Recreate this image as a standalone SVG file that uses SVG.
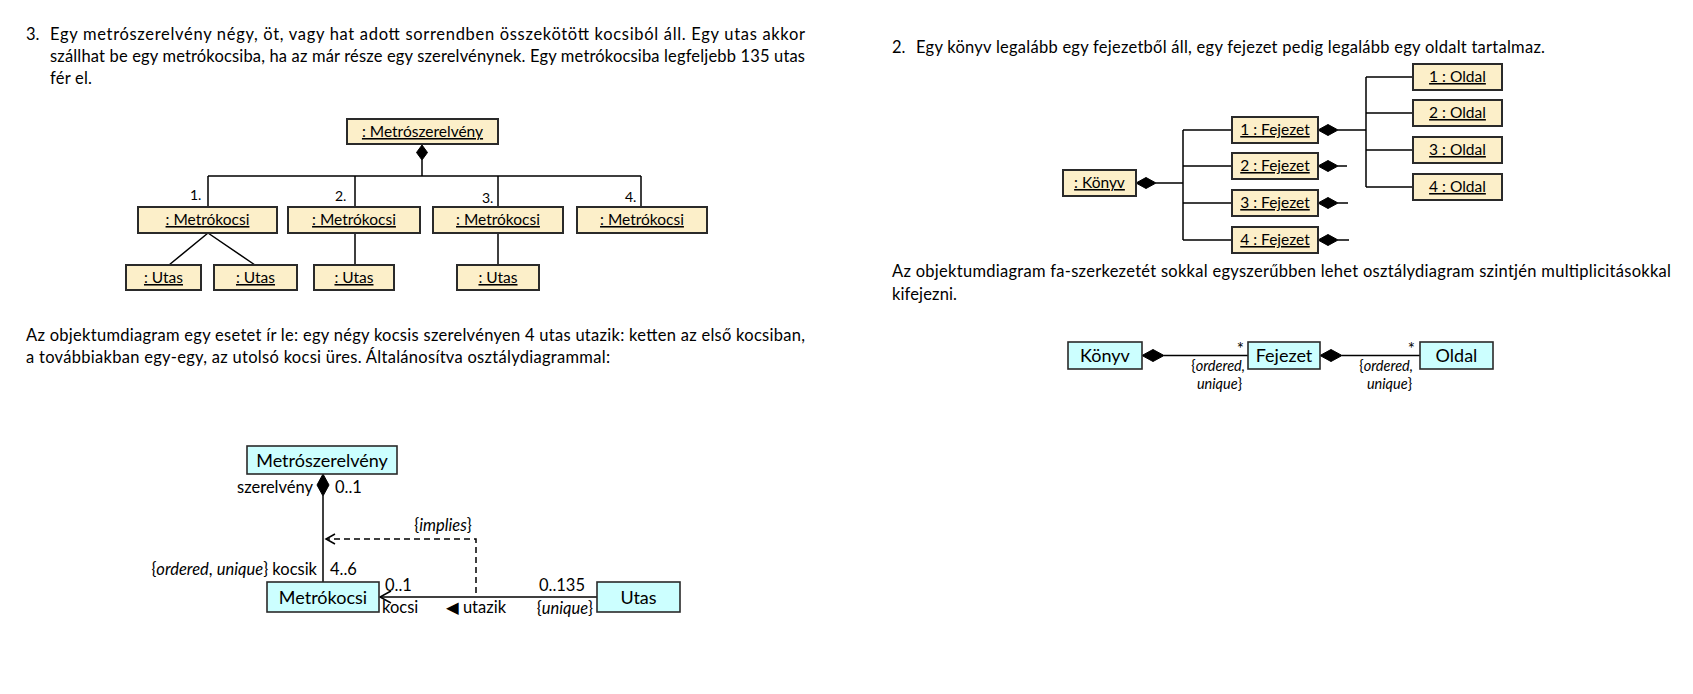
<svg xmlns="http://www.w3.org/2000/svg" width="1693" height="694" viewBox="0 0 1693 694">
<style>
text{font-family:Lato,"Liberation Sans","DejaVu Sans",sans-serif;fill:#000}
.p{font-size:16.5px}
.o{font-size:15.5px;text-anchor:middle;text-decoration:underline}
.c{font-size:18px;text-anchor:middle}
.r{font-size:16.5px}
.s{font-size:14px}
.q{font-size:14.5px}
.st{font-size:17px}
.i{font-style:italic}
.ob{fill:#FCEFC9;stroke:#2a2a2a;stroke-width:2}
.cb{fill:#CCFFFF;stroke:#2a2a2a;stroke-width:1.6}
.ln{fill:none;stroke:#000;stroke-width:1.5}
.dg{fill:#000;stroke:#000;stroke-width:1}
.ds{fill:none;stroke:#000;stroke-width:1.5;stroke-dasharray:6 4}
</style>
<rect width="1693" height="694" fill="#fff"/>

<g id="texts">
<text class="p" x="26" y="40">3.</text>
<text class="p" x="50" y="40" textLength="755" lengthAdjust="spacing">Egy metrószerelvény négy, öt, vagy hat adott sorrendben összekötött kocsiból áll. Egy utas akkor</text>
<text class="p" x="50" y="62" textLength="755" lengthAdjust="spacing">szállhat be egy metrókocsiba, ha az már része egy szerelvénynek. Egy metrókocsiba legfeljebb 135 utas</text>
<text class="p" x="50" y="84" textLength="42" lengthAdjust="spacing">fér el.</text>
<text class="p" x="26" y="341" textLength="779" lengthAdjust="spacing">Az objektumdiagram egy esetet ír le: egy négy kocsis szerelvényen 4 utas utazik: ketten az első kocsiban,</text>
<text class="p" x="26" y="363" textLength="584" lengthAdjust="spacing">a továbbiakban egy-egy, az utolsó kocsi üres. Általánosítva osztálydiagrammal:</text>
<text class="p" x="892" y="53">2.</text>
<text class="p" x="916" y="53" textLength="629" lengthAdjust="spacing">Egy könyv legalább egy fejezetből áll, egy fejezet pedig legalább egy oldalt tartalmaz.</text>
<text class="p" x="892" y="277" textLength="779" lengthAdjust="spacing">Az objektumdiagram fa-szerkezetét sokkal egyszerűbben lehet osztálydiagram szintjén multiplicitásokkal</text>
<text class="p" x="892" y="300" textLength="65" lengthAdjust="spacing">kifejezni.</text>
</g>

<g id="connectors">
<polygon class="dg" points="422,145 427.5,152.5 422,160 416.5,152.5"/>
<path class="ln" d="M422,160V176M208,176H641M208,176V207M355,176V207M498,176V207M641,176V207"/>
<path class="ln" d="M208,233L169,265M208,233L255,265M355,233V265M498,233V265"/>
<text class="s" x="190" y="200">1.</text>
<text class="s" x="335" y="201">2.</text>
<text class="s" x="482" y="203">3.</text>
<text class="s" x="625" y="202">4.</text>
<polygon class="dg" points="323,474 329,485 323,496 317,485"/>
<path class="ln" d="M323,496V582"/>
<path class="ln" d="M380,597H597"/>
<polyline class="ln" points="391,591 380,597 391,603"/>
<path class="ds" d="M476,593V539H326"/>
<polyline class="ln" points="335,534 326,539 335,544"/>
<text class="r" x="313" y="493" text-anchor="end">szerelvény</text>
<text class="r" x="335" y="493">0..1</text>
<text class="r" x="443" y="531" text-anchor="middle">{<tspan class="i">implies</tspan>}</text>
<text class="r" x="317" y="575" text-anchor="end">{<tspan class="i">ordered</tspan>, <tspan class="i">unique</tspan>} kocsik</text>
<text class="r" x="330" y="575">4..6</text>
<text class="r" x="385" y="591">0..1</text>
<text class="r" x="382" y="613">kocsi</text>
<text class="r" x="446" y="613">◀ utazik</text>
<text class="r" x="585" y="591" text-anchor="end">0..135</text>
<text class="r" x="593" y="614" text-anchor="end">{<tspan class="i">unique</tspan>}</text>
<polygon class="dg" points="1136,183 1146,177.5 1156,183 1146,188.5"/>
<path class="ln" d="M1156,183H1183M1183,130V240M1183,130H1232M1183,166H1232M1183,203H1232M1183,240H1232"/>
<polygon class="dg" points="1318,130 1328,124.5 1338,130 1328,135.5"/>
<path class="ln" d="M1338,130H1366M1366,77V187M1366,77H1413M1366,113H1413M1366,150H1413M1366,187H1413"/>
<polygon class="dg" points="1318,166 1328,160.5 1338,166 1328,171.5"/>
<polygon class="dg" points="1318,203 1328,197.5 1338,203 1328,208.5"/>
<polygon class="dg" points="1318,240 1328,234.5 1338,240 1328,245.5"/>
<path class="ln" d="M1338,166H1347M1338,203H1348M1338,240H1349"/>
<polygon class="dg" points="1142,355.5 1153,349.5 1164,355.5 1153,361.5"/>
<path class="ln" d="M1164,355.5H1248"/>
<polygon class="dg" points="1320,355.5 1331,349.5 1342,355.5 1331,361.5"/>
<path class="ln" d="M1342,355.5H1420"/>
<text class="st" x="1244" y="355" text-anchor="end">*</text>
<text class="q" x="1245" y="371" text-anchor="end">{<tspan class="i">ordered,</tspan></text>
<text class="q" x="1242" y="389" text-anchor="end"><tspan class="i">unique</tspan>}</text>
<text class="st" x="1415" y="355" text-anchor="end">*</text>
<text class="q" x="1413" y="371" text-anchor="end">{<tspan class="i">ordered,</tspan></text>
<text class="q" x="1412" y="389" text-anchor="end"><tspan class="i">unique</tspan>}</text>
</g>

<g id="o-szerelveny"><rect class="ob" x="347" y="119" width="151" height="25"/><text class="o" x="422.5" y="137">: Metrószerelvény</text></g>
<g id="o-kocsi1"><rect class="ob" x="138" y="207" width="139" height="26"/><text class="o" x="207.5" y="225">: Metrókocsi</text></g>
<g id="o-kocsi2"><rect class="ob" x="288" y="207" width="132" height="26"/><text class="o" x="354" y="225">: Metrókocsi</text></g>
<g id="o-kocsi3"><rect class="ob" x="433" y="207" width="130" height="26"/><text class="o" x="498" y="225">: Metrókocsi</text></g>
<g id="o-kocsi4"><rect class="ob" x="577" y="207" width="130" height="26"/><text class="o" x="642" y="225">: Metrókocsi</text></g>
<g id="o-utas1"><rect class="ob" x="126" y="265" width="75" height="25"/><text class="o" x="163.5" y="283">: Utas</text></g>
<g id="o-utas2"><rect class="ob" x="214" y="265" width="83" height="25"/><text class="o" x="255.5" y="283">: Utas</text></g>
<g id="o-utas3"><rect class="ob" x="314" y="265" width="80" height="25"/><text class="o" x="354" y="283">: Utas</text></g>
<g id="o-utas4"><rect class="ob" x="457" y="265" width="82" height="25"/><text class="o" x="498" y="283">: Utas</text></g>

<g id="c-szerelveny"><rect class="cb" x="247" y="446" width="150" height="28"/><text class="c" x="322" y="466.5">Metrószerelvény</text></g>
<g id="c-kocsi"><rect class="cb" x="267" y="582" width="112" height="30"/><text class="c" x="323" y="603.5">Metrókocsi</text></g>
<g id="c-utas"><rect class="cb" x="597" y="582" width="83" height="30"/><text class="c" x="638.5" y="603.5">Utas</text></g>

<g id="o-konyv"><rect class="ob" x="1063" y="170" width="73" height="26"/><text class="o" x="1099.5" y="188">: Könyv</text></g>
<g id="o-fej1"><rect class="ob" x="1232" y="117" width="86" height="26"/><text class="o" x="1275" y="135">1 : Fejezet</text></g>
<g id="o-fej2"><rect class="ob" x="1232" y="153" width="86" height="26"/><text class="o" x="1275" y="171">2 : Fejezet</text></g>
<g id="o-fej3"><rect class="ob" x="1232" y="190" width="86" height="26"/><text class="o" x="1275" y="208">3 : Fejezet</text></g>
<g id="o-fej4"><rect class="ob" x="1232" y="227" width="86" height="26"/><text class="o" x="1275" y="245">4 : Fejezet</text></g>
<g id="o-old1"><rect class="ob" x="1413" y="64" width="89" height="26"/><text class="o" x="1457.5" y="82">1 : Oldal</text></g>
<g id="o-old2"><rect class="ob" x="1413" y="100" width="89" height="26"/><text class="o" x="1457.5" y="118">2 : Oldal</text></g>
<g id="o-old3"><rect class="ob" x="1413" y="137" width="89" height="26"/><text class="o" x="1457.5" y="155">3 : Oldal</text></g>
<g id="o-old4"><rect class="ob" x="1413" y="174" width="89" height="26"/><text class="o" x="1457.5" y="192">4 : Oldal</text></g>

<g id="c-konyv"><rect class="cb" x="1068" y="342" width="74" height="27"/><text class="c" x="1105" y="361.5">Könyv</text></g>
<g id="c-fejezet"><rect class="cb" x="1248" y="342" width="72" height="27"/><text class="c" x="1284" y="361.5">Fejezet</text></g>
<g id="c-oldal"><rect class="cb" x="1420" y="342" width="73" height="27"/><text class="c" x="1456.5" y="361.5">Oldal</text></g>
</svg>
